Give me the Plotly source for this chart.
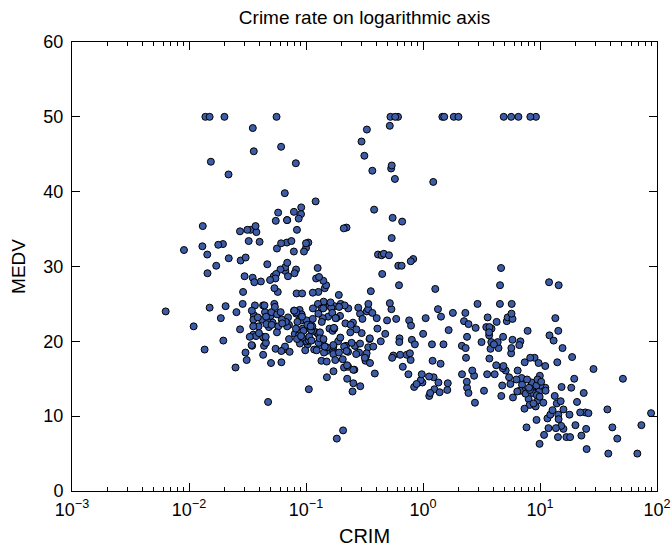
import plotly.graph_objects as go

crim = [
0.00632,0.02731,0.02729,0.03237,0.06905,0.02985,0.08829,0.14455,0.21124,0.17004,
0.22489,0.11747,0.09378,0.62976,0.63796,0.62739,1.05393,0.78420,0.80271,0.72580,
1.25179,0.85204,1.23247,0.98843,0.75026,0.84054,0.67191,0.95577,0.77299,1.00245,
1.13081,1.35472,1.38799,1.15172,1.61282,0.06417,0.09744,0.08014,0.17505,0.02763,
0.03359,0.12744,0.14150,0.15936,0.12269,0.17142,0.18836,0.22927,0.25387,0.21977,
0.08873,0.04337,0.05360,0.04981,0.01360,0.01311,0.02055,0.01432,0.15445,0.10328,
0.14932,0.17171,0.11027,0.12650,0.01951,0.03584,0.04379,0.05789,0.13554,0.12816,
0.08826,0.15876,0.09164,0.19539,0.07896,0.09512,0.10153,0.08707,0.05646,0.08387,
0.04113,0.04462,0.03659,0.03551,0.05059,0.05735,0.05188,0.07151,0.05660,0.05302,
0.04684,0.03932,0.04203,0.02875,0.04294,0.12204,0.11504,0.12083,0.08187,0.06860,
0.14866,0.11432,0.22876,0.21161,0.13960,0.13262,0.17120,0.13117,0.12802,0.26363,
0.10793,0.10084,0.12329,0.22212,0.14231,0.17134,0.13158,0.15098,0.13058,0.14476,
0.06899,0.07165,0.09299,0.15038,0.09849,0.16902,0.38735,0.25915,0.32543,0.88125,
0.34006,1.19294,0.59005,0.32982,0.97617,0.55778,0.32264,0.35233,0.24980,0.54452,
0.29090,1.62864,3.32105,4.09740,2.77974,2.37934,2.15505,2.36862,2.33099,2.73397,
1.65660,1.49632,1.12658,2.14918,1.41385,3.53501,2.44668,1.22358,1.34284,1.42502,
1.27346,1.46336,1.83377,1.51902,2.24236,2.92400,2.01019,1.80028,2.30040,2.44953,
1.20742,2.31390,0.13914,0.09178,0.08447,0.06664,0.07022,0.05425,0.06642,0.05780,
0.06588,0.06888,0.09103,0.10008,0.08308,0.06047,0.05602,0.07875,0.12579,0.08370,
0.09068,0.06911,0.08664,0.02187,0.01439,0.01381,0.04011,0.04666,0.03768,0.03150,
0.01778,0.03445,0.02177,0.03510,0.02009,0.13642,0.22969,0.25199,0.13587,0.43571,
0.17446,0.37578,0.21719,0.14052,0.28955,0.19802,0.04560,0.07013,0.11069,0.11425,
0.35809,0.40771,0.62356,0.61470,0.31533,0.52693,0.38214,0.41238,0.29819,0.44178,
0.53700,0.46296,0.57529,0.33147,0.44791,0.33045,0.52058,0.51183,0.08244,0.09252,
0.11329,0.10612,0.10290,0.12757,0.20608,0.19133,0.33983,0.19657,0.16439,0.19073,
0.14030,0.21409,0.08221,0.36894,0.04819,0.03548,0.01538,0.61154,0.66351,0.65665,
0.54011,0.53412,0.52014,0.82526,0.55007,0.76162,0.78570,0.57834,0.54050,0.09065,
0.29916,0.16211,0.11460,0.22188,0.05644,0.09604,0.10469,0.06127,0.07978,0.21038,
0.03578,0.03705,0.06129,0.01501,0.00906,0.01096,0.01965,0.03871,0.04590,0.04297,
0.03502,0.07886,0.03615,0.08265,0.08199,0.12932,0.05372,0.14103,0.06466,0.05561,
0.04417,0.03537,0.09266,0.10000,0.05515,0.05479,0.07503,0.04932,0.49298,0.34940,
2.63548,0.79041,0.26169,0.26938,0.36920,0.25356,0.31827,0.24522,0.40202,0.47547,
0.16760,0.18159,0.35114,0.28392,0.34109,0.19186,0.30347,0.24103,0.06617,0.06724,
0.04544,0.05023,0.03466,0.05083,0.03738,0.03961,0.03427,0.03041,0.03306,0.05497,
0.06151,0.01301,0.02498,0.02543,0.03049,0.03113,0.06162,0.01870,0.01501,0.02899,
0.06211,0.07950,0.07244,0.01709,0.04301,0.10659,8.98296,3.84970,5.20177,4.26131,
4.54192,3.83684,3.67822,4.22239,3.47428,4.55587,3.69695,13.52220,4.89822,5.66998,
6.53876,9.23230,8.26725,11.10810,18.49820,19.60910,15.28800,9.82349,23.64820,17.86670,
88.97620,15.87440,9.18702,7.99248,20.08490,16.81180,24.39380,22.59710,14.33370,8.15174,
6.96215,5.29305,11.57790,8.64476,13.35980,8.71675,5.87205,7.67202,38.35180,9.91655,
25.04610,14.23620,9.59571,24.80170,41.52920,67.92080,20.71620,11.95110,7.40389,14.43830,
51.13580,14.05070,18.81100,28.65580,45.74610,18.08460,10.83420,25.94060,73.53410,11.81230,
11.08740,7.02259,12.04820,7.05042,8.79212,15.86030,12.24720,37.66190,7.36711,9.33889,
8.49213,10.06230,6.44405,5.58107,13.91340,11.16040,14.42080,15.17720,13.67810,9.39063,
22.05110,9.72418,5.66637,9.96654,12.80230,10.67180,6.28807,9.92485,9.32909,7.52601,
6.71772,5.44114,5.09017,8.24809,9.51363,4.75237,4.66883,8.20058,7.75223,6.80117,
4.81213,3.69311,6.65492,5.82115,7.83932,3.16360,3.77498,4.42228,15.57570,13.07510,
4.34879,4.03841,3.56868,4.64689,8.05579,6.39312,4.87141,15.02340,10.23300,14.33370,
5.82401,5.70818,5.73116,2.81838,2.37857,3.67367,5.69175,4.83567,0.15086,0.18337,
0.20746,0.10574,0.11132,0.17331,0.27957,0.17899,0.28960,0.26838,0.23912,0.17783,
0.22438,0.06263,0.04527,0.06076,0.10959,0.04741,
]

medv = [
24.0,21.6,34.7,33.4,36.2,28.7,22.9,27.1,16.5,18.9,
15.0,18.9,21.7,20.4,18.2,19.9,23.1,17.5,20.2,18.2,
13.6,19.6,15.2,14.5,15.6,13.9,16.6,14.8,18.4,21.0,
12.7,14.5,13.2,13.1,13.5,18.9,20.0,21.0,24.7,30.8,
34.9,26.6,25.3,24.7,21.2,19.3,20.0,16.6,14.4,19.4,
19.7,20.5,25.0,23.4,18.9,35.4,24.7,31.6,23.3,19.6,
18.7,16.0,22.2,25.0,33.0,23.5,19.4,22.0,17.4,20.9,
24.2,21.7,22.8,23.4,24.1,21.4,20.0,20.8,21.2,20.3,
28.0,23.9,24.8,22.9,23.9,26.6,22.5,22.2,23.6,28.7,
22.6,22.0,22.9,25.0,20.6,28.4,21.4,38.7,43.8,33.2,
27.5,26.5,18.6,19.3,20.1,19.5,19.5,20.4,19.8,19.4,
21.7,22.8,18.8,18.7,18.5,18.3,21.2,19.2,20.4,19.3,
22.0,20.3,20.5,17.3,18.8,21.4,15.7,16.2,18.0,14.3,
19.2,19.6,23.0,18.4,15.6,18.1,17.4,17.1,13.3,17.8,
14.0,14.4,13.4,15.6,11.8,13.8,15.6,14.6,17.8,15.4,
21.5,19.6,15.3,19.4,17.0,15.6,13.1,41.3,24.3,23.3,
27.0,50.0,50.0,50.0,22.7,25.0,50.0,23.8,23.8,22.3,
17.4,19.1,23.1,23.6,22.6,29.4,23.2,24.6,29.9,37.2,
39.8,36.2,37.9,32.5,26.4,29.6,50.0,32.0,29.8,34.9,
37.0,30.5,36.4,31.1,29.1,50.0,33.3,30.3,34.6,34.9,
32.9,24.1,42.3,48.5,50.0,22.6,24.4,22.5,24.4,20.0,
21.7,19.3,22.4,28.1,23.7,25.0,23.3,28.7,21.5,23.0,
26.7,21.7,27.5,30.1,44.8,50.0,37.6,31.6,46.7,31.5,
24.3,31.7,41.7,48.3,29.0,24.0,25.1,31.5,23.7,23.3,
22.0,20.1,22.2,23.7,17.6,18.5,24.3,20.5,24.5,26.2,
24.4,24.8,29.6,42.8,21.9,20.9,44.0,50.0,36.0,30.1,
33.8,43.1,48.8,31.0,36.5,22.8,30.7,50.0,43.5,20.7,
21.1,25.2,24.4,35.2,32.4,32.0,33.2,33.1,29.1,35.1,
45.4,35.4,46.0,50.0,32.2,22.0,20.1,23.2,22.3,24.8,
28.5,37.3,27.9,23.9,21.7,28.6,27.1,20.3,22.5,29.0,
24.8,22.0,26.4,33.1,36.1,28.4,33.4,28.2,22.8,20.3,
16.1,22.1,19.4,21.6,23.8,16.2,17.8,19.8,23.1,21.0,
23.8,23.1,20.4,18.5,25.0,24.6,23.0,22.2,19.3,22.6,
19.8,17.1,19.4,22.2,20.7,21.1,19.5,18.5,20.6,19.0,
18.7,32.7,16.5,23.9,31.2,17.5,17.2,23.1,24.5,26.6,
22.9,24.1,18.6,30.1,18.2,20.6,17.8,21.7,22.7,22.6,
25.0,19.9,20.8,16.8,21.9,27.5,21.9,23.1,50.0,50.0,
50.0,50.0,50.0,13.8,13.8,15.0,13.9,13.3,13.1,10.2,
10.4,10.9,11.3,12.3,8.8,7.2,10.5,7.4,10.2,11.5,
15.1,23.2,9.7,13.8,12.7,13.1,12.5,8.5,5.0,6.3,
5.6,7.2,12.1,8.3,8.5,5.0,11.9,27.9,17.2,27.5,
15.0,17.2,17.9,16.3,7.0,7.2,7.5,10.4,8.8,8.4,
16.7,14.2,20.8,13.4,11.7,8.3,10.2,10.9,11.0,9.5,
14.5,14.1,16.1,14.3,11.7,13.4,9.6,8.7,8.4,12.8,
10.5,17.1,18.4,15.4,10.8,11.8,14.9,12.6,14.1,13.0,
13.4,15.2,16.1,17.8,14.9,14.1,12.7,13.5,14.9,20.0,
16.4,17.7,19.5,20.2,21.4,19.9,19.0,19.1,19.1,20.1,
19.9,19.6,23.2,29.8,13.8,13.3,16.7,12.0,14.6,21.4,
23.0,23.7,25.0,21.8,20.6,21.2,19.1,20.6,15.2,7.0,
8.1,13.6,20.1,21.8,24.5,23.1,19.7,18.3,21.2,17.5,
16.8,22.4,20.6,23.9,22.0,11.9,
]

n = min(len(crim), len(medv))
crim = crim[:n]
medv = medv[:n]

x_tickvals = [0.001, 0.01, 0.1, 1, 10, 100]
x_ticktext = ["10<sup>−3</sup>", "10<sup>−2</sup>", "10<sup>−1</sup>",
              "10<sup>0</sup>", "10<sup>1</sup>", "10<sup>2</sup>"]
y_tickvals = [0, 10, 20, 30, 40, 50, 60]

FONT = "Liberation Sans"

fig = go.Figure()
fig.add_trace(go.Scatter(
    x=crim, y=medv, mode="markers",
    marker=dict(size=7, color="#3d5ca8", line=dict(color="black", width=1)),
    showlegend=False, cliponaxis=False, hoverinfo="skip",
))

fig.update_layout(
    width=672, height=556,
    margin=dict(l=72, r=15, t=42, b=65),
    paper_bgcolor="white", plot_bgcolor="white",
    font=dict(family=FONT, size=18, color="black"),
    title=dict(text="Crime rate on logarithmic axis", x=0.5, xref="paper",
               y=0.968, yref="container", xanchor="center", yanchor="middle",
               font=dict(family=FONT, size=19, color="black")),
)

fig.update_xaxes(
    type="log", range=[-3, 2],
    tickvals=x_tickvals, ticktext=x_ticktext,
    ticks="inside", ticklen=8, tickwidth=1, tickcolor="black",
    showline=True, linecolor="black", linewidth=1, mirror="ticks",
    showgrid=False, zeroline=False, automargin=False,
    minor=dict(ticks="inside", ticklen=4, tickwidth=1, tickcolor="black",
               dtick="D1", showgrid=False),
    title=dict(text="CRIM", font=dict(family=FONT, size=20), standoff=10),
    tickfont=dict(family=FONT, size=18),
    ticklabelstandoff=2,
)
fig.update_yaxes(
    range=[0, 60], tickvals=y_tickvals,
    ticks="inside", ticklen=8, tickwidth=1, tickcolor="black",
    showline=True, linecolor="black", linewidth=1, mirror="ticks",
    showgrid=False, zeroline=False, automargin=False,
    title=dict(text="MEDV", font=dict(family=FONT, size=19), standoff=12),
    tickfont=dict(family=FONT, size=18),
    ticklabelstandoff=4,
)

# remove the default 8px page margin so the figure fills the window exactly
fig.write_html("out.html", config={"displayModeBar": False},
               post_script="document.body.style.margin='0';")
